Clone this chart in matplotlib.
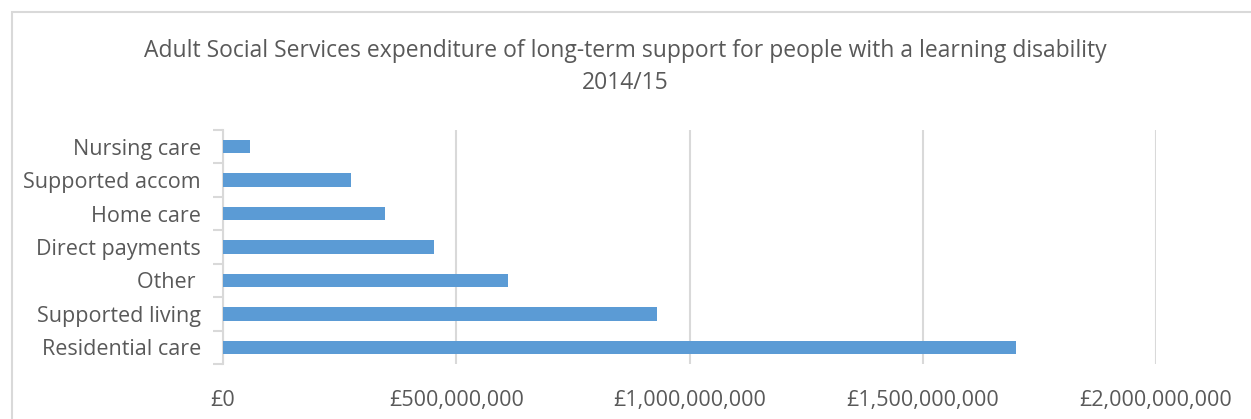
import matplotlib.pyplot as plt
from matplotlib.patches import Rectangle
from matplotlib.ticker import FuncFormatter

# categories (bottom to top) and spend in pounds
categories = ['Residential care', 'Supported living', 'Other ', 'Direct payments',
              'Home care', 'Supported accom', 'Nursing care']
spend = [1699e6, 931e6, 612e6, 452e6, 348e6, 274e6, 57e6]
x_ticks = [0, 500e6, 1000e6, 1500e6, 2000e6]

plt.rcParams['font.family'] = ['Open Sans', 'DejaVu Sans']
text_col = '#595959'
grid_col = '#D9D9D9'

W, H = 1251, 419
fig = plt.figure(figsize=(W / 100, H / 100), dpi=100)

# chart area border
fig.patches.append(Rectangle((12 / W, -0.1), 1.2, 1 - 12 / H + 0.1,
                             transform=fig.transFigure, fill=False,
                             edgecolor=grid_col, linewidth=1.5))

# plot area
left, right, top, bottom = 223, 1156, 130, 364
ax = fig.add_axes([left / W, 1 - bottom / H, (right - left) / W, (bottom - top) / H])

ax.barh(range(len(categories)), spend, height=0.4, color='#5B9BD5', zorder=3)
ax.set_xlim(0, 2000e6)
ax.set_ylim(-0.5, len(categories) - 0.5)

ax.set_xticks(x_ticks)
ax.xaxis.set_major_formatter(FuncFormatter(lambda v, p: '£{:,.0f}'.format(v)))
ax.grid(axis='x', color=grid_col, linewidth=1.5, zorder=0)

ax.set_yticks(range(len(categories)))
ax.set_yticklabels(categories)
# category boundary ticks like excel
ax.set_yticks([i - 0.5 for i in range(len(categories) + 1)], minor=True)
ax.tick_params(axis='y', which='major', length=0, pad=16, labelsize=15.5, labelcolor=text_col)
ax.tick_params(axis='y', which='minor', length=7, color=grid_col, width=1.5)
ax.tick_params(axis='x', length=0, pad=19, labelsize=15.5, labelcolor=text_col)

for s in ['top', 'right', 'bottom']:
    ax.spines[s].set_visible(False)
ax.spines['left'].set_color(grid_col)
ax.spines['left'].set_linewidth(1.5)

fig.text(0.5, 1 - 51 / H, 'Adult Social Services expenditure of long-term support for people with a learning disability',
         ha='center', va='center', fontsize=16.5, color=text_col)
fig.text(0.5, 1 - 83 / H, '2014/15', ha='center', va='center', fontsize=16.5, color=text_col)

fig.savefig('out.png', dpi=100)
